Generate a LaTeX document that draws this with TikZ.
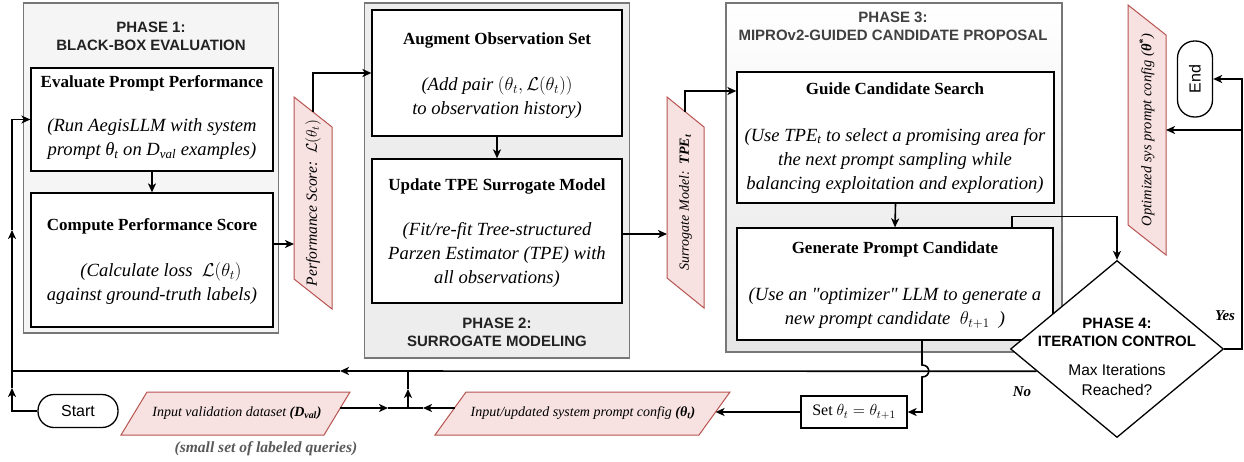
\RequirePackage{fix-cm}
\documentclass[tikz,border=0pt]{standalone}
\usepackage{fontspec}
\setmainfont{Liberation Serif}[Ligatures=TeXOff]
\setsansfont{Liberation Sans}
\usetikzlibrary{arrows.meta,shapes.geometric,calc}
\definecolor{pfill}{HTML}{F7E1E1}
\definecolor{pline}{HTML}{B85450}
\definecolor{cline}{HTML}{777777}
\definecolor{ttl}{HTML}{222222}
\newcommand{\fs}[2]{\fontsize{#1}{#2}\selectfont}
\begin{document}
\begin{tikzpicture}[x=1pt,y=-1pt,
  arr/.style={line width=1.6pt,-{Stealth[length=9pt,width=8pt,inset=2.5pt]}},
  ln/.style={line width=1.6pt},
  container/.style={draw=cline,line width=1.2pt},
  procbox/.style={draw=black,line width=1.3pt,fill=white},
  btitle/.style={font=\rmfamily\bfseries\fs{17}{20}},
  bbody/.style={font=\rmfamily\itshape\fs{18.6}{24},align=center},
  ptitle/.style={font=\sffamily\bfseries\fs{15}{18},align=center,text=ttl},
  io/.style={fill=pfill,draw=pline,line width=1pt},
  iotext/.style={font=\rmfamily\itshape\fs{14}{16}},
  lbl/.style={font=\rmfamily\bfseries\itshape\fs{15}{17}},
  term/.style={draw,line width=1.3pt,fill=white,font=\sffamily\fs{16}{18}}]
\useasboundingbox (0,0) rectangle (1244,461);
\fill[white] (0,0) rectangle (1244,461);
% containers
\node[container,fill=black!4,minimum width=255pt,minimum height=330pt] (p1) at (151,168) {};
\node[container,fill=black!7,minimum width=265pt,minimum height=355pt] (p2) at (497,180.5) {};
\node[container,top color=white,bottom color=black!10,minimum width=336pt,minimum height=349pt] (p3) at (894,177.5) {};
\node[ptitle] (p1t) at (151,36) {PHASE 1:\\BLACK-BOX EVALUATION};
\node[ptitle] (p2t) at (497,332) {PHASE 2:\\SURROGATE MODELING};
\node[ptitle,text=black!75] (p3t) at (893,26.5) {PHASE 3:\\MIPROv2-GUIDED CANDIDATE PROPOSAL};
% process boxes
\node[procbox,minimum width=242pt,minimum height=103pt] (eval) at (152,119.5) {};
\node[procbox,minimum width=242pt,minimum height=134pt] (comp) at (152,260) {};
\node[procbox,minimum width=250pt,minimum height=126pt] (aug) at (497,73) {};
\node[procbox,minimum width=250pt,minimum height=144pt] (upd) at (497,231) {};
\node[procbox,minimum width=317pt,minimum height=131pt] (guide) at (895.5,137.5) {};
\node[procbox,minimum width=316pt,minimum height=112pt] (gen) at (895,284) {};
\node[btitle] (evalt) at (152,83) {Evaluate Prompt Performance};
\node[bbody] (evalb) at (152,139.5) {(Run AegisLLM with system\\prompt θ\textsubscript{t} on D\textsubscript{val} examples)};
\node[btitle] (compt) at (152,226) {Compute Performance Score};
\node[bbody] (compb) at (152,284) {\hspace*{18pt}(Calculate loss\ \ $\mathcal{L}(\theta_t)$\\against ground-truth labels)};
\node[btitle] (augt) at (497,40) {Augment Observation Set};
\node[bbody] (augb) at (497,98) {(Add pair $(\theta_t,\mathcal{L}(\theta_t))$\\to observation history)};
\node[btitle] (updt) at (497,186) {Update TPE Surrogate Model};
\node[bbody] (updb) at (497,254.5) {(Fit/re-fit Tree-structured\\Parzen Estimator (TPE) with\\all observations)};
\node[btitle] (guidet) at (895,89) {Guide Candidate Search};
\node[bbody] (guideb) at (895,160.5) {(Use TPE\textsubscript{t} to select a promising area for\\the next prompt sampling while\\balancing exploitation and exploration)};
\node[btitle] (gent) at (895,249) {Generate Prompt Candidate};
\node[bbody] (genb) at (895,308) {(Use an "optimizer" LLM to generate a\\new prompt candidate\ \ $\theta_{t+1}$\ \ )};
% data parallelograms
\draw[io] (294,97) -- (332,127) -- (332,309) -- (294,279) -- cycle;
\node[iotext,font=\rmfamily\itshape\fs{15.5}{17},rotate=90] (perf) at (313,203) {Performance Score:\ \ $\mathcal{L}(\theta_t)$};
\coordinate (perfT) at (313,112);
\coordinate (perfL) at (294,244);
\draw[io] (667,97) -- (704,127) -- (704,308) -- (667,278) -- cycle;
\node[iotext,rotate=90] (sur) at (685.5,202.5) {Surrogate Model:\ \ \textbf{TPE\textsubscript{t}}};
\coordinate (surT) at (685,112);
\coordinate (surL) at (667,234);
\draw[io] (1128,5) -- (1166,35) -- (1166,255) -- (1128,225) -- cycle;
\node[iotext,font=\rmfamily\itshape\fs{14.5}{16},rotate=90] (opt) at (1147,130) {Optimized sys prompt config (\textbf{θ}\textsuperscript{\textbf{*}})};
\coordinate (optR) at (1166,130);
\draw[io] (147,392) -- (350,392) -- (324,435) -- (121,435) -- cycle;
\node[iotext] (dval) at (237,413) {Input validation dataset \textbf{(D\textsubscript{val})}};
\coordinate (dvalR) at (340,408);
\draw[io] (466,392) -- (730,392) -- (699,435) -- (435,435) -- cycle;
\node[iotext] (inp) at (583,413) {Input/updated system prompt config \textbf{(θ\textsubscript{t})}};
\coordinate (inL) at (454.5,408);
\coordinate (inR) at (715.6,412);
\node[font=\rmfamily\bfseries\itshape\fs{15.5}{17},text=black!65] (small) at (266,449) {(small set of labeled queries)};
% terminals and set box
\node[term,rounded corners=16pt,minimum width=80pt,minimum height=33pt] (start) at (78,411) {Start};
\node[term,rounded corners=17pt,rotate=90,minimum width=76pt,minimum height=35pt] (endn) at (1195,79) {End};
\node[draw,line width=1.3pt,fill=white,minimum width=106pt,minimum height=32pt,font=\fs{16}{18}] (set) at (854,412) {$\mathrm{Set}\ \theta_t=\theta_{t+1}$};
% connectors inside phases
\draw[arr] (eval.south) -- (comp.north);
\draw[arr] (comp.east |- perfL) -- (perfL);
\draw[arr] (perfT) |- (aug.west);
\draw[arr] (aug.south) -- (upd.north);
\draw[arr] (upd.east |- surL) -- (surL);
\draw[arr] (surT) |- ([yshift=46.5pt]guide.west);
\draw[arr] (guide.south) -- (gen.north);
% diamond
\node[diamond,draw,line width=1.3pt,fill=white,minimum width=213pt,minimum height=177pt,inner sep=0pt] (dia) at (1117,349) {};
\node[ptitle,text=black] (diat) at (1117,332) {PHASE 4:\\ITERATION CONTROL};
\node[font=\sffamily\fs{15.5}{20},align=center] (diab) at (1117,380) {Max Iterations\\Reached?};
\draw[arr] ([xshift=117pt]gen.north) -- ++(0,-11) -| (dia.north);
% yes branch
\coordinate (yc) at (1242,349);
\coordinate (yb) at (1242,130);
\draw[ln] (dia.east) -- (yc) -- (yb);
\draw[arr] (yb) |- (endn.south);
\draw[arr] (yb) -- (optR);
\node[lbl] (yes) at (1225,316) {Yes};
% no branch
\coordinate (nS) at ($(dia.west)!0.25!(dia.south)$);
\coordinate (nA) at (340,371);
\coordinate (lc) at (12,371);
\coordinate (lA) at (12,230);
\draw[arr] (nS) -- (nA);
\draw[arr] (nA) -- (lc) -- (lA);
\draw[arr] (lA) |- (eval.west);
\node[lbl] (no) at (1022,392) {No};
% start
\coordinate (sc) at (12,411);
\coordinate (sA) at (12,388);
\draw[arr] (start.west) -- (sc) -- (sA);
\draw[ln] (sA) -- (lc);
% inputs junction
\coordinate (jA) at (388,408);
\coordinate (j) at (408,408);
\coordinate (jB) at (423,408);
\coordinate (jU) at (408,389);
\coordinate (jT) at (408,371);
\draw[arr] (dvalR) -- (jA);
\draw[ln] (jA) -- (j);
\draw[arr] (inL) -- (jB);
\draw[ln] (jB) -- (j);
\draw[arr] (j) -- (jU);
\draw[ln] (jU) -- (jT);
% generate -> set (with line jump)
\coordinate (g1) at ([xshift=27pt]gen.south);
\coordinate (g2) at (922,365);
\coordinate (g3) at (922,377);
\draw[arr] (g1) -- (g2) .. controls (931,365) and (931,377) .. (g3) |- (set.east);
\draw[arr] (set.west) -- (inR);
\end{tikzpicture}
\end{document}
